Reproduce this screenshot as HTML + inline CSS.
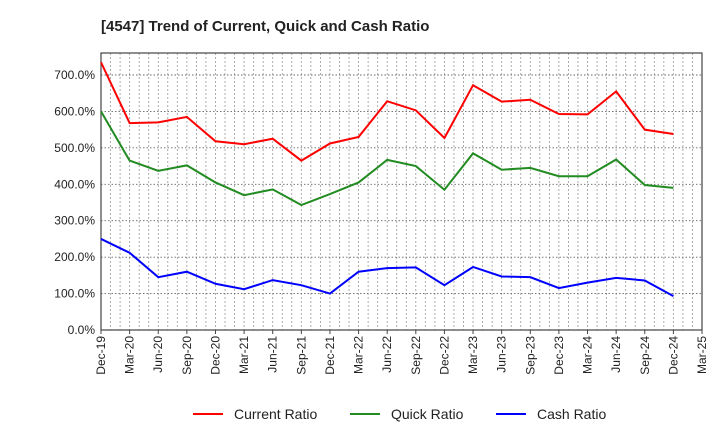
<!DOCTYPE html>
<html><head><meta charset="utf-8"><style>
body{margin:0;background:#fff;font-family:"Liberation Sans",sans-serif}
</style></head><body>
<svg id="c" width="720" height="440" xmlns="http://www.w3.org/2000/svg" font-family="Liberation Sans, sans-serif"></svg>
<script>
const xLabels=["Dec-19","Mar-20","Jun-20","Sep-20","Dec-20","Mar-21","Jun-21","Sep-21","Dec-21","Mar-22","Jun-22","Sep-22","Dec-22","Mar-23","Jun-23","Sep-23","Dec-23","Mar-24","Jun-24","Sep-24","Dec-24","Mar-25"];
const yTicks=[0,100,200,300,400,500,600,700];
const currentRatio=[735,568,570,585,518,510,525,465,512,530,628,603,527,672,627,632,593,592,655,550,538];
const quickRatio=[600,465,437,452,405,370,386,343,373,405,467,450,385,485,440,445,422,422,468,398,390];
const cashRatio=[250,212,145,160,127,112,137,123,100,160,170,172,123,173,147,145,115,130,143,136,93];
const NS="http://www.w3.org/2000/svg",svg=document.getElementById('c');
const L=101,R=702,T=53,B=330;
const x=i=>L+(R-L)*i/(xLabels.length-1);
const y=v=>B-(B-75)*v/700;
function mk(t,a,p){const e=document.createElementNS(NS,t);for(const k in a)e.setAttribute(k,a[k]);(p||svg).appendChild(e);return e;}
const title=mk('text',{x:101,y:31,'font-size':15,'font-weight':'bold',fill:'#222'});title.textContent='[4547]  Trend of Current, Quick and Cash Ratio';


const grid=mk('g',{});


for(let m=1;m<(xLabels.length-1)*3;m++){const xx=L+(R-L)*m/((xLabels.length-1)*3);mk('line',{x1:xx,x2:xx,y1:T,y2:B,stroke:'#999','stroke-dasharray':'2,2','stroke-width':0.8},grid);}
yTicks.forEach(v=>{if(v>0)mk('line',{x1:L,x2:R,y1:y(v),y2:y(v),stroke:'#666','stroke-dasharray':'1.5,2','stroke-width':0.9},grid);
const t=mk('text',{x:L-6,y:y(v)+4,'font-size':12,'text-anchor':'end',fill:'#222'});t.textContent=v.toFixed(1)+'%';

});
xLabels.forEach((s,i)=>{const t=mk('text',{transform:`translate(${x(i)+4},${B+6}) rotate(-90)`,'font-size':12,'text-anchor':'end',fill:'#222'});t.textContent=s;


mk('line',{x1:x(i),x2:x(i),y1:B,y2:B+4,stroke:'#444'});});
const fr=mk('rect',{x:L,y:T,width:R-L,height:B-T,fill:'none',stroke:'#444','stroke-width':1.2});


[[currentRatio,'#ff0000','current-ratio-line'],[quickRatio,'#228b22','quick-ratio-line'],[cashRatio,'#0000ff','cash-ratio-line']].forEach(([d,c,n])=>{
const p=mk('polyline',{points:d.map((v,i)=>x(i)+','+y(v)).join(' '),fill:'none',stroke:c,'stroke-width':2});

});
[['Current Ratio','#ff0000',193],['Quick Ratio','#228b22',350],['Cash Ratio','#0000ff',496]].forEach(([s,c,lx])=>{
const g=mk('g',{});


mk('line',{x1:lx,x2:lx+30,y1:414,y2:414,stroke:c,'stroke-width':2},g);
const t=mk('text',{x:lx+41,y:419,'font-size':14,fill:'#222'},g);t.textContent=s;});
</script>
</body></html>
